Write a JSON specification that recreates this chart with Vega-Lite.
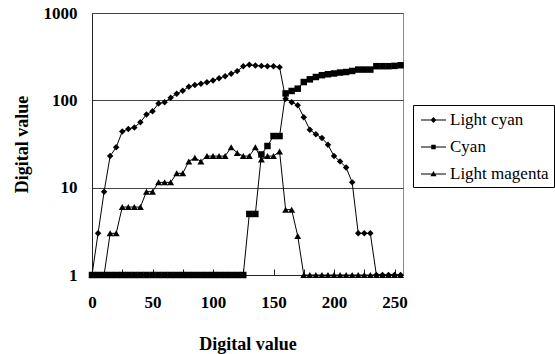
{
  "$schema": "https://vega.github.io/schema/vega-lite/v6.json",
  "width": 311,
  "height": 262,
  "autosize": {"type": "none"},
  "padding": {"left": 92, "top": 13, "right": 152, "bottom": 79},
  "background": "white",
  "config": {
    "view": {"stroke": "#8c8c8c", "strokeWidth": 1},
    "font": "Liberation Serif",
    "legend": {"labelFont": "Liberation Serif"}
  },
  "datasets": {
    "d": [
      {"series": "Light magenta", "x": 0, "y": 1}, {"series": "Light magenta", "x": 5, "y": 1}, {"series": "Light magenta", "x": 10, "y": 1}, {"series": "Light magenta", "x": 15, "y": 3}, {"series": "Light magenta", "x": 20, "y": 3}, {"series": "Light magenta", "x": 25, "y": 6}, {"series": "Light magenta", "x": 30, "y": 6}, {"series": "Light magenta", "x": 35, "y": 6}, {"series": "Light magenta", "x": 40, "y": 6}, {"series": "Light magenta", "x": 45, "y": 9}, {"series": "Light magenta", "x": 50, "y": 9}, {"series": "Light magenta", "x": 55, "y": 11.5}, {"series": "Light magenta", "x": 60, "y": 11.5}, {"series": "Light magenta", "x": 65, "y": 11.5}, {"series": "Light magenta", "x": 70, "y": 14.6}, {"series": "Light magenta", "x": 75, "y": 14.6}, {"series": "Light magenta", "x": 80, "y": 20}, {"series": "Light magenta", "x": 85, "y": 22}, {"series": "Light magenta", "x": 90, "y": 20}, {"series": "Light magenta", "x": 95, "y": 23}, {"series": "Light magenta", "x": 100, "y": 23}, {"series": "Light magenta", "x": 105, "y": 23}, {"series": "Light magenta", "x": 110, "y": 23}, {"series": "Light magenta", "x": 115, "y": 29}, {"series": "Light magenta", "x": 120, "y": 25}, {"series": "Light magenta", "x": 125, "y": 23}, {"series": "Light magenta", "x": 130, "y": 23}, {"series": "Light magenta", "x": 135, "y": 29}, {"series": "Light magenta", "x": 140, "y": 21}, {"series": "Light magenta", "x": 145, "y": 23}, {"series": "Light magenta", "x": 150, "y": 23}, {"series": "Light magenta", "x": 155, "y": 26}, {"series": "Light magenta", "x": 160, "y": 5.6}, {"series": "Light magenta", "x": 165, "y": 5.6}, {"series": "Light magenta", "x": 170, "y": 2.8}, {"series": "Light magenta", "x": 175, "y": 1}, {"series": "Light magenta", "x": 180, "y": 1}, {"series": "Light magenta", "x": 185, "y": 1}, {"series": "Light magenta", "x": 190, "y": 1}, {"series": "Light magenta", "x": 195, "y": 1}, {"series": "Light magenta", "x": 200, "y": 1}, {"series": "Light magenta", "x": 205, "y": 1}, {"series": "Light magenta", "x": 210, "y": 1}, {"series": "Light magenta", "x": 215, "y": 1}, {"series": "Light magenta", "x": 220, "y": 1}, {"series": "Light magenta", "x": 225, "y": 1}, {"series": "Light magenta", "x": 230, "y": 1}, {"series": "Light magenta", "x": 235, "y": 1}, {"series": "Light magenta", "x": 240, "y": 1}, {"series": "Light magenta", "x": 245, "y": 1}, {"series": "Light magenta", "x": 250, "y": 1}, {"series": "Light magenta", "x": 255, "y": 1},
      {"series": "Light cyan", "x": 0, "y": 1}, {"series": "Light cyan", "x": 5, "y": 3}, {"series": "Light cyan", "x": 10, "y": 9}, {"series": "Light cyan", "x": 15, "y": 23}, {"series": "Light cyan", "x": 20, "y": 29}, {"series": "Light cyan", "x": 25, "y": 44}, {"series": "Light cyan", "x": 30, "y": 47}, {"series": "Light cyan", "x": 35, "y": 49}, {"series": "Light cyan", "x": 40, "y": 56}, {"series": "Light cyan", "x": 45, "y": 69}, {"series": "Light cyan", "x": 50, "y": 75}, {"series": "Light cyan", "x": 55, "y": 92}, {"series": "Light cyan", "x": 60, "y": 95}, {"series": "Light cyan", "x": 65, "y": 107}, {"series": "Light cyan", "x": 70, "y": 119}, {"series": "Light cyan", "x": 75, "y": 129}, {"series": "Light cyan", "x": 80, "y": 143}, {"series": "Light cyan", "x": 85, "y": 150}, {"series": "Light cyan", "x": 90, "y": 155}, {"series": "Light cyan", "x": 95, "y": 161}, {"series": "Light cyan", "x": 100, "y": 169}, {"series": "Light cyan", "x": 105, "y": 179}, {"series": "Light cyan", "x": 110, "y": 189}, {"series": "Light cyan", "x": 115, "y": 201}, {"series": "Light cyan", "x": 120, "y": 216}, {"series": "Light cyan", "x": 125, "y": 245}, {"series": "Light cyan", "x": 130, "y": 255}, {"series": "Light cyan", "x": 135, "y": 250}, {"series": "Light cyan", "x": 140, "y": 248}, {"series": "Light cyan", "x": 145, "y": 246}, {"series": "Light cyan", "x": 150, "y": 245}, {"series": "Light cyan", "x": 155, "y": 240}, {"series": "Light cyan", "x": 160, "y": 104}, {"series": "Light cyan", "x": 165, "y": 95}, {"series": "Light cyan", "x": 170, "y": 88}, {"series": "Light cyan", "x": 175, "y": 64}, {"series": "Light cyan", "x": 180, "y": 46}, {"series": "Light cyan", "x": 185, "y": 41}, {"series": "Light cyan", "x": 190, "y": 37}, {"series": "Light cyan", "x": 195, "y": 31}, {"series": "Light cyan", "x": 200, "y": 23}, {"series": "Light cyan", "x": 205, "y": 20}, {"series": "Light cyan", "x": 210, "y": 17}, {"series": "Light cyan", "x": 215, "y": 11.5}, {"series": "Light cyan", "x": 220, "y": 3}, {"series": "Light cyan", "x": 225, "y": 3}, {"series": "Light cyan", "x": 230, "y": 3}, {"series": "Light cyan", "x": 235, "y": 1}, {"series": "Light cyan", "x": 240, "y": 1}, {"series": "Light cyan", "x": 245, "y": 1}, {"series": "Light cyan", "x": 250, "y": 1}, {"series": "Light cyan", "x": 255, "y": 1},
      {"series": "Cyan", "x": 0, "y": 1}, {"series": "Cyan", "x": 5, "y": 1}, {"series": "Cyan", "x": 10, "y": 1}, {"series": "Cyan", "x": 15, "y": 1}, {"series": "Cyan", "x": 20, "y": 1}, {"series": "Cyan", "x": 25, "y": 1}, {"series": "Cyan", "x": 30, "y": 1}, {"series": "Cyan", "x": 35, "y": 1}, {"series": "Cyan", "x": 40, "y": 1}, {"series": "Cyan", "x": 45, "y": 1}, {"series": "Cyan", "x": 50, "y": 1}, {"series": "Cyan", "x": 55, "y": 1}, {"series": "Cyan", "x": 60, "y": 1}, {"series": "Cyan", "x": 65, "y": 1}, {"series": "Cyan", "x": 70, "y": 1}, {"series": "Cyan", "x": 75, "y": 1}, {"series": "Cyan", "x": 80, "y": 1}, {"series": "Cyan", "x": 85, "y": 1}, {"series": "Cyan", "x": 90, "y": 1}, {"series": "Cyan", "x": 95, "y": 1}, {"series": "Cyan", "x": 100, "y": 1}, {"series": "Cyan", "x": 105, "y": 1}, {"series": "Cyan", "x": 110, "y": 1}, {"series": "Cyan", "x": 115, "y": 1}, {"series": "Cyan", "x": 120, "y": 1}, {"series": "Cyan", "x": 125, "y": 1}, {"series": "Cyan", "x": 130, "y": 5}, {"series": "Cyan", "x": 135, "y": 5}, {"series": "Cyan", "x": 140, "y": 24}, {"series": "Cyan", "x": 145, "y": 30}, {"series": "Cyan", "x": 150, "y": 39}, {"series": "Cyan", "x": 155, "y": 39}, {"series": "Cyan", "x": 160, "y": 120}, {"series": "Cyan", "x": 165, "y": 128}, {"series": "Cyan", "x": 170, "y": 136}, {"series": "Cyan", "x": 175, "y": 162}, {"series": "Cyan", "x": 180, "y": 174}, {"series": "Cyan", "x": 185, "y": 185}, {"series": "Cyan", "x": 190, "y": 194}, {"series": "Cyan", "x": 195, "y": 199}, {"series": "Cyan", "x": 200, "y": 203}, {"series": "Cyan", "x": 205, "y": 208}, {"series": "Cyan", "x": 210, "y": 211}, {"series": "Cyan", "x": 215, "y": 217}, {"series": "Cyan", "x": 220, "y": 225}, {"series": "Cyan", "x": 225, "y": 225}, {"series": "Cyan", "x": 230, "y": 225}, {"series": "Cyan", "x": 235, "y": 246}, {"series": "Cyan", "x": 240, "y": 246}, {"series": "Cyan", "x": 245, "y": 246}, {"series": "Cyan", "x": 250, "y": 248}, {"series": "Cyan", "x": 255, "y": 252}
    ]
  },
  "data": {"name": "d"},
  "encoding": {
    "x": {
      "field": "x", "type": "quantitative",
      "scale": {"domain": [0, 257], "nice": false, "zero": false},
      "axis": {
        "values": [0, 25, 50, 75, 100, 125, 150, 175, 200, 225, 250],
        "labelExpr": "datum.value % 50 == 0 ? datum.label : ''",
        "grid": false, "ticks": true, "tickSize": -6, "tickColor": "#222", "tickWidth": 1,
        "domainColor": "#222",
        "labelFontSize": 17, "labelFontWeight": "bold", "labelColor": "black",
        "labelPadding": 25, "labelFlush": false,
        "title": "Digital value", "titleFontSize": 18, "titleFontWeight": "bold", "titleColor": "black", "titlePadding": 25
      }
    },
    "y": {
      "field": "y", "type": "quantitative",
      "scale": {"type": "log", "domain": [1, 1000], "nice": false},
      "axis": {
        "values": [1, 10, 100, 1000], "format": "d",
        "grid": true, "gridColor": "#444", "gridOpacity": 1, "gridWidth": 1,
        "ticks": false, "domainColor": "#222",
        "labelFontSize": 17, "labelFontWeight": "bold", "labelColor": "black",
        "labelPadding": 15, "labelFlush": false,
        "title": "Digital value", "titleFontSize": 18, "titleFontWeight": "bold", "titleColor": "black", "titlePadding": 12
      }
    }
  },
  "layer": [
    {
      "mark": {"type": "line", "color": "black", "strokeWidth": 1},
      "encoding": {"detail": {"field": "series"}}
    },
    {
      "transform": [{"filter": "datum.series == 'Light magenta'"}],
      "mark": {"type": "point", "filled": true, "color": "black", "opacity": 1, "size": 48, "shape": "triangle-up"}
    },
    {
      "transform": [{"filter": "datum.series == 'Light cyan'"}],
      "mark": {"type": "point", "filled": true, "color": "black", "opacity": 1, "size": 42, "shape": "diamond"}
    },
    {
      "transform": [{"filter": "datum.series == 'Cyan'"}],
      "mark": {"type": "point", "filled": true, "color": "black", "opacity": 1, "size": 42, "shape": "square"}
    },
    {
      "transform": [{"filter": "datum.x < 0"}],
      "mark": {"type": "point", "filled": true, "color": "black", "opacity": 1},
      "encoding": {
        "shape": {
          "field": "series", "type": "nominal",
          "scale": {
            "domain": ["Light cyan", "Cyan", "Light magenta"],
            "range": [
              "M-0.78,-0.06L2,-0.06L2,0.06L-0.78,0.06ZM0.61,-0.32L0.93,0L0.61,0.32L0.29,0Z",
              "M-0.78,-0.06L2,-0.06L2,0.06L-0.78,0.06ZM0.36,-0.25L0.86,-0.25L0.86,0.25L0.36,0.25Z",
              "M-0.78,-0.06L2,-0.06L2,0.06L-0.78,0.06ZM0.61,-0.34L0.95,0.24L0.27,0.24Z"
            ]
          },
          "legend": {
            "title": null, "orient": "none", "legendX": 321, "legendY": 92,
            "padding": 5, "rowPadding": 9, "strokeColor": "black", "fillColor": "white",
            "symbolSize": 324, "symbolFillColor": "black", "symbolOpacity": 1,
            "labelFontSize": 17, "labelFont": "Liberation Serif", "labelColor": "black", "labelOffset": 12
          }
        }
      }
    }
  ]
}
